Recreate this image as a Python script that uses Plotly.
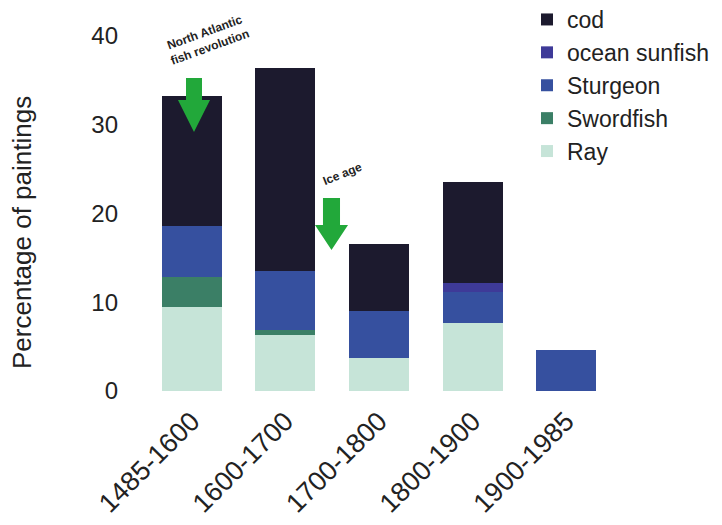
import plotly.graph_objects as go

categories = ["1485-1600", "1600-1700", "1700-1800", "1800-1900", "1900-1985"]
ray = [9.5, 6.3, 3.7, 7.7, 0]
swordfish = [3.3, 0.6, 0, 0, 0]
sturgeon = [5.8, 6.6, 5.3, 3.4, 4.6]
ocean_sunfish = [0, 0, 0, 1.1, 0]
cod = [14.6, 22.9, 7.6, 11.4, 0]

series = [
    ("Ray", ray, "#c6e4d8"),
    ("Swordfish", swordfish, "#3b7f66"),
    ("Sturgeon", sturgeon, "#36509f"),
    ("ocean sunfish", ocean_sunfish, "#3e3a98"),
    ("cod", cod, "#1c1a2e"),
]

FONT = "Liberation Sans, Arial, sans-serif"

fig = go.Figure()
for name, vals, col in series:
    fig.add_trace(go.Bar(x=categories, y=vals, name=name, marker_color=col,
                         marker_line_width=0, legendgroup=name))

OFF = 8  # page body margin
W, H = 722 - OFF, 525 - OFF
# plot area in screen (reference) pixels
L, R, T, B = 145, 613, 36, 391
Lf, Rf, Tf, Bf = L - OFF, R - OFF, T - OFF, B - OFF

def px(x):
    return (x - OFF - Lf) / (Rf - Lf)

def py(y):
    return (Bf - (y - OFF)) / (Bf - Tf)

def arrow(cx, top, neck, tip, shaft_w, head_w):
    s, h = shaft_w / 2, head_w / 2
    pts = [(cx - s, top), (cx + s, top), (cx + s, neck), (cx + h, neck),
           (cx, tip), (cx - h, neck), (cx - s, neck)]
    d = "M " + " L ".join(f"{px(a):.4f},{py(b):.4f}" for a, b in pts) + " Z"
    return dict(type="path", xref="paper", yref="paper", path=d,
                fillcolor="#22a83a", line=dict(width=0), layer="above")

fig.update_layout(
    width=W, height=H,
    margin=dict(l=Lf, r=W - Rf, t=Tf, b=H - Bf, autoexpand=False),
    paper_bgcolor="white", plot_bgcolor="white",
    barmode="stack", bargap=0.36,
    font=dict(family=FONT, color="#222"),
    xaxis=dict(tickangle=-45, tickfont=dict(size=27, color="#222"),
               showgrid=False, showline=False, ticks="", zeroline=False,
               automargin=False, ticklabelstandoff=8),
    yaxis=dict(range=[0, 40], tickvals=[0, 10, 20, 30, 40],
               tickfont=dict(size=24, color="#222"), showgrid=False,
               showline=False, zeroline=False, ticks="", ticklabelstandoff=26,
               automargin=False),
    legend=dict(traceorder="reversed", x=px(527), y=py(-2), xanchor="left",
                yanchor="top", font=dict(size=23, color="#222"),
                tracegroupgap=7, itemwidth=30, bgcolor="rgba(0,0,0,0)"),
    shapes=[arrow(194, 78, 100, 132, 16, 32), arrow(331.5, 198, 225, 250, 17, 33)],
    annotations=[
        dict(text="Percentage of paintings", xref="paper", yref="paper",
             x=px(22), y=py(233), xanchor="center", yanchor="middle",
             showarrow=False, textangle=-90,
             font=dict(size=26, color="#222", family=FONT)),
        dict(text="<b>North Atlantic<br>fish revolution</b>", xref="paper",
             yref="paper", x=px(207), y=py(40), xanchor="center",
             yanchor="middle", showarrow=False, textangle=-20,
             font=dict(size=12, color="#222", family=FONT)),
        dict(text="<b>Ice age</b>", xref="paper", yref="paper", x=px(342),
             y=py(174), xanchor="center", yanchor="middle", showarrow=False,
             textangle=-22, font=dict(size=12, color="#222", family=FONT)),
    ],
)

fig.write_html("out.html")
